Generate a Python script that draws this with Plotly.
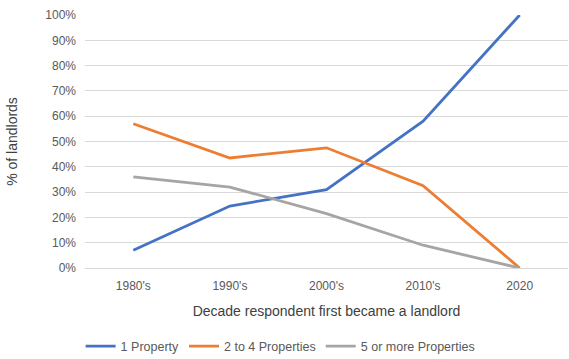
import plotly.graph_objects as go

decades = ["1980's", "1990's", "2000's", "2010's", "2020"]
one_property = [7.0, 24.5, 31.0, 58.0, 100.0]
two_to_four = [57.0, 43.5, 47.5, 32.5, 0.0]
five_or_more = [36.0, 32.0, 21.5, 9.0, 0.0]

series = [
    ("1 Property", one_property, "#4472C4"),
    ("2 to 4 Properties", two_to_four, "#ED7D31"),
    ("5 or more Properties", five_or_more, "#A5A5A5"),
]

fig = go.Figure()
for name, vals, color in series:
    fig.add_trace(go.Scatter(
        x=decades, y=[v / 100 for v in vals], name=name, mode="lines",
        line=dict(color=color, width=2.8),
    ))

font = "Liberation Sans, Arial, sans-serif"
fig.update_layout(
    width=569, height=359,
    margin=dict(l=85, r=1, t=15, b=91, autoexpand=False),
    paper_bgcolor="white", plot_bgcolor="white",
    font=dict(family=font, color="#595959", size=12),
    showlegend=True,
    legend=dict(
        orientation="h", x=0.405, xanchor="center", y=-0.31, yanchor="middle",
        font=dict(size=12.5, color="#595959"), itemwidth=30, tracegroupgap=0,
    ),
    xaxis=dict(
        range=[-0.5, 4.5], automargin=False,
        showgrid=False, zeroline=False, showline=False, ticks="",
        tickfont=dict(size=12, color="#595959"), ticklabelstandoff=9,
        title=dict(text="Decade respondent first became a landlord",
                   font=dict(size=14, color="#404040"), standoff=14),
    ),
    yaxis=dict(
        range=[0, 1], tickformat=".0%", dtick=0.1, automargin=False,
        showgrid=True, gridcolor="#D9D9D9", gridwidth=1.2,
        zeroline=True, zerolinecolor="#D9D9D9", zerolinewidth=1.2,
        ticks="", tickfont=dict(size=12, color="#595959"), ticklabelstandoff=8,
        title=dict(text="% of landlords", font=dict(size=14, color="#404040"), standoff=24),
    ),
)

fig.write_html("out.html")
